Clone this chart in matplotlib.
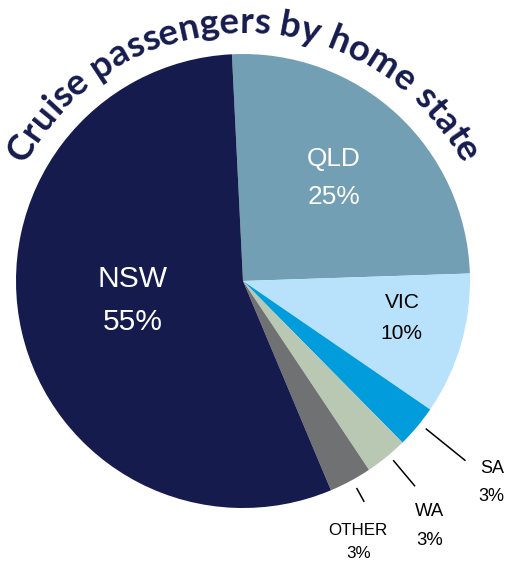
import numpy as np
import matplotlib
matplotlib.use('Agg')
import matplotlib.pyplot as plt
from matplotlib import font_manager
from matplotlib.ft2font import FT2Font

# 数据
states = ['QLD', 'VIC', 'SA', 'WA', 'OTHER', 'NSW']
shares = [25, 10, 3, 3, 3, 55]
colors = ['#729fb3', '#b8e2fb', '#009cdc', '#b9c8b3', '#707173', '#151c4d']
title = 'Cruise passengers by home state'

# 画布 513x562 像素, 坐标直接用像素
W, H = 513, 562
fig = plt.figure(figsize=(W / 100, H / 100), dpi=100)
ax = fig.add_axes([0, 0, 1, 1])
cx, cy, R = 243, 281, 227

wedges, _ = ax.pie(shares, colors=colors, startangle=92.8, counterclock=False,
                   center=(cx, cy), radius=R, frame=True,
                   wedgeprops=dict(linewidth=0))
ax.set_xlim(0, W)
ax.set_ylim(0, H)
ax.set_aspect('equal')
ax.axis('off')

# 标签: 角度偏移, 半径比例, 字号(px), 行距(px), 颜色
label_style = {
    'QLD':   (2.0, 0.615, 26.3, 38, 'white'),
    'VIC':   (3.7, 0.717, 21.0, 31, 'black'),
    'SA':    (1.2, 1.405, 18.0, 28, 'black'),
    'WA':    (-1.7, 1.348, 18.5, 29, 'black'),
    'OTHER': (-4.3, 1.25, 17.0, 23.5, 'black'),
    'NSW':   (-4.2, 0.49, 30.0, 43, 'white'),
}
# 引线: 起点半径, 终点半径, 角度偏移
leaders = {'SA': (1.035, 1.26, 1.0), 'WA': (1.03, 1.18, 0.8), 'OTHER': (1.04, 1.11, 0.5)}

for w, name, val in zip(wedges, states, shares):
    mid = (w.theta1 + w.theta2) / 2
    off, rf, fpx, gap, col = label_style[name]
    a = np.deg2rad(mid + off)
    lx, ly = cx + rf * R * np.cos(a), cy + rf * R * np.sin(a)
    fs = fpx * 72 / 100
    cap = 0.716 * fpx
    base1 = ly + (gap + cap) / 2 - cap
    ax.text(lx, base1, name, ha='center', va='baseline', fontsize=fs,
            color=col, family='Liberation Sans')
    ax.text(lx, base1 - gap, f'{val}%', ha='center', va='baseline', fontsize=fs,
            color=col, family='Liberation Sans')
    if name in leaders:
        r0, r1, loff = leaders[name]
        b = np.deg2rad(mid + loff)
        ax.plot([cx + r0 * R * np.cos(b), cx + r1 * R * np.cos(b)],
                [cy + r0 * R * np.sin(b), cy + r1 * R * np.sin(b)],
                color='black', lw=1.1, solid_capstyle='butt')

# 弧形标题, 逐字放置
tfs = 26.5
prop = font_manager.FontProperties(family='Lato', weight='bold', size=tfs)
font = FT2Font(font_manager.findfont(prop))
font.set_size(tfs, 100)
adv = []
for ch in title:
    g = font.load_char(ord(ch))
    adv.append(g.linearHoriAdvance / 65536)
adv = np.array(adv)
total = adv.sum()
rt = 248
pos = np.cumsum(adv) - adv / 2 - total / 2
for ch, s in zip(title, pos):
    th = np.pi / 2 - s / rt
    ax.text(cx + rt * np.cos(th), cy + rt * np.sin(th), ch,
            rotation=np.rad2deg(th) - 90, rotation_mode='anchor',
            ha='center', va='baseline', fontproperties=prop, color='#151c4d')

fig.savefig('out.png', dpi=100)
